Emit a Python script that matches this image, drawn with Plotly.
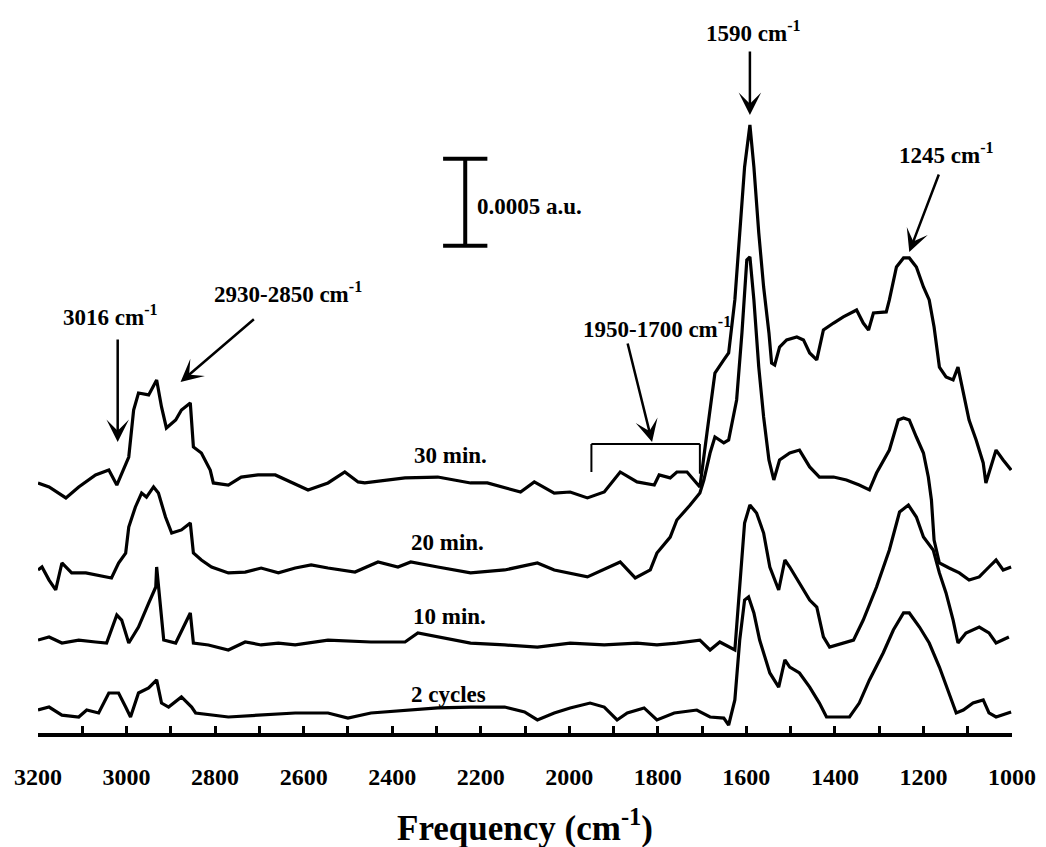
import plotly.graph_objects as go

# Wavenumbers (cm^-1) and absorbance (units of 1e-4 a.u., offsets included as drawn)
wn_30 = [3200,3175,3137,3108,3070,3040,3022,2995,2984,2973,2950,2932,2921,2910,2889,2876,2856,2849,2831,2811,
         2804,2770,2741,2703,2664,2628,2590,2545,2507,2477,2462,2371,2297,2223,2185,2110,2079,2034,1998,1959,
         1921,1885,1847,1808,1797,1772,1757,1734,1712,1705,1689,1671,1651,1640,1626,1615,1604,1592,1583,1572,
         1561,1549,1543,1536,1525,1509,1486,1471,1457,1441,1426,1403,1381,1351,1336,1324,1313,1284,1277,1261,
         1245,1232,1216,1200,1187,1176,1164,1149,1133,1122,1110,1097,1081,1065,1059,1047,1036,1020,1002]
abs_30 = [14.37,14.14,13.51,14.14,14.83,15.11,14.25,15.86,18.56,19.54,19.43,20.29,18.74,17.53,17.99,18.56,18.97,16.44,16.09,15.11,
          14.37,14.25,14.71,14.83,14.83,14.43,13.97,14.37,15.0,14.43,14.37,14.66,14.71,14.37,14.37,13.85,14.43,13.79,13.85,13.51,
          13.85,15.0,14.43,14.25,14.83,14.66,15.0,15.0,14.37,14.14,17.24,20.69,21.44,21.84,24.89,28.74,32.53,34.94,32.53,28.74,
          25.63,22.99,21.26,21.15,22.18,22.59,22.76,22.59,21.84,21.44,23.16,23.56,23.91,24.31,23.56,23.16,24.14,24.20,24.89,26.78,
          27.30,27.30,26.78,25.63,24.89,23.33,21.03,20.46,20.29,21.03,19.54,17.99,16.84,15.52,14.37,15.29,16.26,15.69,15.11]

wn_20 = [3200,3191,3175,3160,3146,3124,3092,3070,3034,3018,3002,2995,2980,2966,2955,2939,2928,2912,2898,2876,
         2856,2849,2831,2808,2770,2732,2696,2657,2619,2583,2545,2484,2432,2387,2358,2297,2223,2146,2072,2034,
         1959,1885,1851,1817,1802,1772,1757,1727,1705,1696,1682,1671,1651,1640,1622,1610,1599,1592,1583,1572,
         1561,1549,1538,1525,1502,1480,1457,1435,1403,1374,1345,1322,1306,1277,1257,1245,1232,1216,1200,1189,
         1182,1176,1164,1142,1119,1097,1074,1052,1036,1020,1002]
abs_20 = [9.37,9.54,8.79,8.22,9.77,9.20,9.20,9.08,8.91,9.77,10.34,11.84,12.99,13.79,13.56,14.14,13.79,12.41,11.49,11.67,
          12.07,10.34,9.94,9.54,9.20,9.25,9.48,9.20,9.48,9.66,9.48,9.25,9.83,9.54,9.83,9.54,9.20,9.37,9.77,9.37,
          8.97,9.83,8.91,9.37,10.34,11.26,12.24,13.10,13.79,14.54,16.09,17.01,16.67,16.84,19.14,22.99,27.18,27.36,24.89,21.03,
          18.16,15.69,14.54,15.69,16.09,16.26,15.29,14.71,14.71,14.54,14.25,13.97,14.94,16.26,17.99,18.10,17.99,17.01,16.09,14.71,
          13.39,11.09,9.77,9.48,9.20,8.79,8.97,9.54,9.94,9.37,9.54]

wn_10 = [3200,3175,3146,3108,3070,3045,3022,3011,2995,2973,2950,2934,2932,2923,2916,2889,2871,2856,2849,2815,
         2770,2732,2696,2657,2619,2545,2448,2371,2342,2297,2223,2146,2072,1998,1921,1847,1802,1757,1705,1682,
         1660,1626,1615,1604,1592,1577,1561,1547,1527,1513,1502,1480,1457,1441,1426,1412,1381,1358,1336,1306,
         1277,1254,1234,1216,1200,1178,1164,1149,1133,1122,1104,1074,1052,1036,1007]
abs_10 = [5.34,5.52,5.17,5.34,5.23,5.17,6.78,6.49,5.17,6.09,7.47,8.39,9.54,7.07,5.34,5.17,6.09,6.90,5.17,5.06,
          4.77,5.23,5.06,5.17,5.06,5.34,5.23,5.23,5.75,5.52,5.17,5.06,4.94,5.17,5.06,5.17,5.06,5.17,5.34,4.77,
          5.23,4.77,8.22,12.07,13.10,12.64,11.49,9.54,8.22,9.94,9.54,8.62,7.64,7.24,5.52,4.94,5.17,5.34,6.49,8.39,
          10.52,12.70,13.10,12.41,11.26,10.52,9.20,8.05,6.49,5.17,5.75,6.09,5.75,5.17,5.52]

wn_2 = [3200,3175,3146,3108,3090,3063,3040,3018,3002,2991,2973,2950,2932,2921,2905,2876,2853,2844,2770,2696,
        2619,2545,2500,2448,2371,2297,2223,2146,2101,2072,2034,1998,1953,1921,1892,1869,1831,1802,1763,1712,
        1682,1651,1640,1626,1615,1604,1595,1583,1570,1547,1527,1513,1502,1480,1457,1435,1419,1396,1367,1345,
        1322,1291,1268,1245,1232,1209,1187,1164,1142,1126,1110,1088,1065,1052,1036,1002]
abs_2 = [1.32,1.49,1.03,0.92,1.32,1.15,2.30,2.30,1.49,0.92,2.30,2.59,3.05,1.72,1.49,2.07,1.49,1.15,0.92,1.03,
         1.15,1.15,0.86,1.15,1.32,1.44,1.49,1.49,1.21,0.75,1.15,1.44,1.72,1.49,0.75,1.15,1.44,0.75,1.15,1.32,
         0.92,0.86,0.46,1.90,5.34,7.64,7.82,6.90,5.34,3.45,2.64,4.20,3.79,3.45,2.64,1.72,0.92,0.92,0.92,1.72,
         3.05,4.60,5.92,6.90,6.90,6.09,5.17,3.79,2.30,1.15,1.32,1.72,1.90,1.15,0.92,1.21]

series_names = ["30 min.", "20 min.", "10 min.", "2 cycles"]
tick_vals = [3200, 3000, 2800, 2600, 2400, 2200, 2000, 1800, 1600, 1400, 1200, 1000]

FONT = "Liberation Serif"
TXT = dict(size=23, family=FONT, color="black")

fig = go.Figure()
for name, xs, ys in zip(series_names, [wn_30, wn_20, wn_10, wn_2], [abs_30, abs_20, abs_10, abs_2]):
    fig.add_trace(go.Scatter(x=xs, y=ys, mode="lines", name=name,
                             line=dict(color="black", width=3.2), showlegend=False))

anns = []
# Series labels
label_pos = [(2268, 15.92), (2275, 10.92), (2270, 6.72), (2272, 2.24)]
for name, (lx, ly) in zip(series_names, label_pos):
    anns.append(dict(x=lx, y=ly, text="<b>%s</b>" % name, showarrow=False, font=TXT))

# Peak labels
texts = [
    ("1590 cm<sup>-1</sup>", 1583, 40.34),
    ("1245 cm<sup>-1</sup>", 1149, 33.33),
    ("3016 cm<sup>-1</sup>", 3036, 23.97),
    ("2930-2850 cm<sup>-1</sup>", 2635, 25.34),
    ("1950-1700 cm<sup>-1</sup>", 1802, 23.28),
]
for t, tx, ty in texts:
    anns.append(dict(x=tx, y=ty, text="<b>%s</b>" % t, showarrow=False, font=TXT))

anns.append(dict(x=2212, y=30.23, text="<b>0.0005 a.u.</b>", showarrow=False, xanchor="left", font=TXT))

# Arrows: (head x, head y, tail x, tail y)
arrows = [
    (1592, 35.52, 1592, 39.25),
    (1232, 27.64, 1164, 32.18),
    (3020, 16.72, 3020, 22.70),
    (2878, 20.17, 2709, 23.85),
    (1813, 16.72, 1869, 22.47),
]
for hx, hy, tx, ty in arrows:
    anns.append(dict(x=hx, y=hy, ax=tx, ay=ty, axref="x", ayref="y", xref="x", yref="y",
                     text="", showarrow=True, arrowhead=3, arrowsize=1.5, arrowwidth=2.5,
                     arrowcolor="black", standoff=0, startstandoff=0))

# Axis title
anns.append(dict(x=0.5, y=0, xref="paper", yref="paper", yanchor="middle", yshift=-92,
                 text="<b>Frequency (cm<sup>-1</sup>)</b>", showarrow=False,
                 font=dict(size=35, family=FONT, color="black")))

shapes = []
# Bracket over 1950-1700
shapes.append(dict(type="line", x0=1950, x1=1705, y0=16.61, y1=16.61, xref="x", yref="y",
                   line=dict(color="black", width=2)))
shapes.append(dict(type="line", x0=1950, x1=1950, y0=16.61, y1=15.0, xref="x", yref="y",
                   line=dict(color="black", width=2)))
shapes.append(dict(type="line", x0=1705, x1=1705, y0=16.61, y1=14.9, xref="x", yref="y",
                   line=dict(color="black", width=2)))
# Scale bar (0.0005 a.u. = 5 units)
shapes.append(dict(type="line", x0=2235, x1=2235, y0=28.0, y1=33.0, xref="x", yref="y",
                   line=dict(color="black", width=4)))
shapes.append(dict(type="line", x0=2285, x1=2185, y0=33.0, y1=33.0, xref="x", yref="y",
                   line=dict(color="black", width=4)))
shapes.append(dict(type="line", x0=2285, x1=2185, y0=28.0, y1=28.0, xref="x", yref="y",
                   line=dict(color="black", width=4)))

fig.update_layout(
    width=1046, height=847,
    margin=dict(l=38, r=30, t=10, b=114),
    paper_bgcolor="white", plot_bgcolor="white",
    font=dict(family=FONT, color="black", size=22),
    annotations=anns, shapes=shapes,
    xaxis=dict(range=[3200, 1000], tickvals=tick_vals,
               ticktext=["<b>%d</b>" % v for v in tick_vals],
               ticks="inside", ticklen=7, tickwidth=3,
               tickcolor="black", showline=True, linewidth=4, linecolor="black",
               showgrid=False, zeroline=False, tickfont=dict(size=24, family=FONT, color="black"),
               ticklabelstandoff=19,
               minor=dict(dtick=100, tick0=1000, ticks="inside", ticklen=7, tickwidth=3, tickcolor="black",
                          showgrid=False)),
    yaxis=dict(range=[0, 41.55], visible=False, showgrid=False, zeroline=False),
)

fig.write_html("out.html")
